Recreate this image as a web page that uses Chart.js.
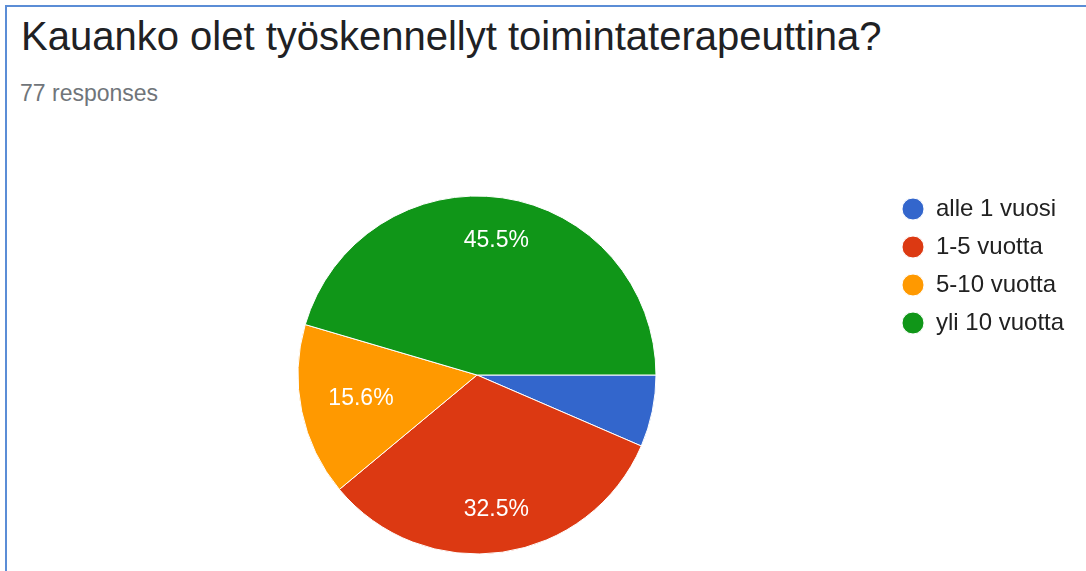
<!DOCTYPE html>
<html lang="fi">
<head>
<meta charset="utf-8">
<title>Kauanko olet työskennellyt toimintaterapeuttina?</title>
<script src="https://cdn.jsdelivr.net/npm/chart.js@4/dist/chart.umd.min.js"></script>
<style>
  html, body { margin: 0; padding: 0; background: #fff; }
  body { width: 1086px; height: 571px; position: relative; overflow: hidden;
         font-family: "Liberation Sans", Arial, sans-serif; }
  .frame { position: absolute; left: 5px; top: 5px; right: -10px; bottom: -10px;
           border-top: 2px solid #5b8dd6; border-left: 2px solid #5b8dd6; }
  .title { position: absolute; left: 21px; top: 16px; font-size: 40px; line-height: 1;
           color: #202124; white-space: nowrap; }
  .subtitle { position: absolute; left: 20px; top: 82px; font-size: 23px; line-height: 1;
              color: #70757a; white-space: nowrap; }
  #chart { position: absolute; left: 0; top: 0; }
</style>
</head>
<body>
<div class="frame"></div>
<div class="title" id="title"></div>
<div class="subtitle" id="subtitle"></div>
<canvas id="chart" width="1086" height="571"></canvas>
<script>
// Survey answers: how long the respondent has worked as an occupational therapist
const questionText = 'Kauanko olet työskennellyt toimintaterapeuttina?';
const categories = ['alle 1 vuosi', '1-5 vuotta', '5-10 vuotta', 'yli 10 vuotta'];
const responseCounts = [5, 25, 12, 35];
const sliceColors = ['#3366cc', '#dc3912', '#ff9900', '#109618'];

const totalResponses = responseCounts.reduce((a, b) => a + b, 0);
document.getElementById('title').textContent = questionText;
document.getElementById('subtitle').textContent = totalResponses + ' responses';

// Layout geometry for the pie and the legend column
const FONT_FAMILY = '"Liberation Sans", Arial, sans-serif';
const pieCenter = { x: 477, y: 375 };
const pieRadius = 179;
const legendFontSize = 24;
const legendPadding = 14;
const legendBoxWidth = 22;
const legendCircleX = 913;
const legendFirstY = 209;

const legendLeft = legendCircleX - legendPadding - legendBoxWidth / 2;
const areaTop = legendFirstY - legendPadding - legendFontSize / 2;
const areaLeft = 2 * pieCenter.x - legendLeft;
const areaBottom = 571 - (2 * pieCenter.y - areaTop);

const measureCtx = document.createElement('canvas').getContext('2d');
measureCtx.font = legendFontSize + 'px ' + FONT_FAMILY;
const widestLabel = Math.max(...categories.map(c => measureCtx.measureText(c).width));
const legendWidth = legendPadding + legendBoxWidth + legendFontSize / 2 + widestLabel + 10;
const areaRight = 1086 - legendLeft - legendWidth;

// Percentage text inside each slice, kept within 85% of the radius
const sliceLabels = {
  id: 'sliceLabels',
  afterDatasetsDraw(chart) {
    const ctx = chart.ctx;
    const meta = chart.getDatasetMeta(0);
    const values = chart.data.datasets[0].data;
    const sum = values.reduce((a, b) => a + b, 0);
    ctx.save();
    ctx.font = '23px ' + FONT_FAMILY;
    ctx.fillStyle = '#ffffff';
    ctx.textAlign = 'center';
    ctx.textBaseline = 'middle';
    meta.data.forEach((arc, i) => {
      const p = arc.getProps(['x', 'y', 'startAngle', 'endAngle', 'outerRadius'], true);
      const text = (values[i] / sum * 100).toFixed(1) + '%';
      const hw = ctx.measureText(text).width / 2;
      const hh = 8.5;
      const mid = (p.startAngle + p.endAngle) / 2;
      const ux = Math.cos(mid), uy = Math.sin(mid);
      const cx = Math.sign(ux) * hw, cy = Math.sign(uy) * hh;
      const L = 0.85 * p.outerRadius;
      const dot = ux * cx + uy * cy;
      const d = -dot + Math.sqrt(dot * dot - (cx * cx + cy * cy) + L * L);
      const span = p.endAngle - p.startAngle;
      const chord = 2 * d * Math.sin(Math.min(span, Math.PI) / 2);
      if (chord < hw * 2 + 6) return;
      ctx.fillText(text, p.x + d * ux, p.y + d * uy);
    });
    ctx.restore();
  }
};

new Chart(document.getElementById('chart'), {
  type: 'pie',
  data: {
    labels: categories,
    datasets: [{
      data: responseCounts,
      backgroundColor: sliceColors,
      borderColor: '#ffffff',
      borderWidth: 1,
      radius: pieRadius
    }]
  },
  options: {
    responsive: false,
    animation: false,
    devicePixelRatio: 1,
    rotation: 90,
    layout: {
      padding: { top: areaTop, left: areaLeft, bottom: areaBottom, right: areaRight }
    },
    plugins: {
      tooltip: { enabled: false },
      legend: {
        position: 'right',
        align: 'start',
        labels: {
          usePointStyle: true,
          pointStyle: 'circle',
          boxHeight: legendBoxWidth / Math.SQRT2,
          pointStyleWidth: legendBoxWidth,
          padding: legendPadding,
          color: '#212121',
          font: { family: FONT_FAMILY, size: legendFontSize }
        }
      }
    }
  },
  plugins: [sliceLabels]
});
</script>
</body>
</html>
